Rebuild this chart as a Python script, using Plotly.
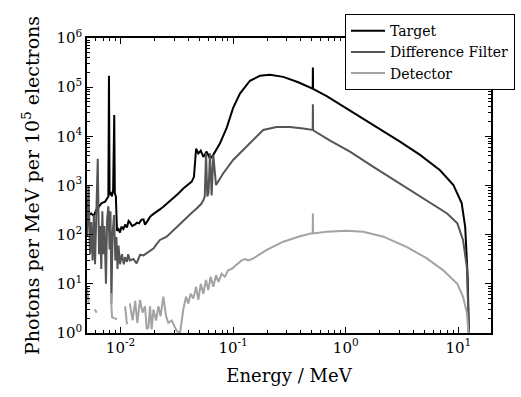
import plotly.graph_objects as go

# ---------------- data ----------------
target_e = [0.00504, 0.0052, 0.0055, 0.0058, 0.0061, 0.0065, 0.0068, 0.0073, 0.0077, 0.0078,
            0.0079, 0.0080, 0.0082, 0.0084, 0.0086, 0.0088, 0.0089, 0.0091, 0.0093, 0.0096,
            0.0099, 0.0102, 0.0106, 0.0110, 0.0114, 0.0118, 0.0121, 0.0127, 0.0134, 0.0140,
            0.0146, 0.0153, 0.0160, 0.0165, 0.0171, 0.0177, 0.0183, 0.0190, 0.0200, 0.0210,
            0.0225, 0.0240, 0.0265, 0.0295, 0.0325, 0.0361, 0.0395, 0.0429, 0.0449, 0.0462,
            0.0469, 0.0491, 0.0516, 0.0544, 0.0582, 0.0623, 0.0667, 0.0765, 0.0878, 0.100,
            0.115, 0.141, 0.173, 0.212, 0.279, 0.379, 0.500, 0.509, 0.511, 0.513,
            0.678, 1.02, 1.76, 3.03, 4.57, 6.88, 9.04, 10.7, 11.5, 12.1, 12.4]
target_v = [170, 250, 270, 240, 320, 380, 440, 470, 560, 600,
            1.7e5, 650, 690, 600, 810, 2.7e4, 700, 600, 120, 130,
            110, 145, 130, 160, 140, 190, 180, 150, 160, 175,
            170, 200, 205, 160, 180, 210, 230, 250, 270, 295,
            330, 370, 450, 550, 680, 870, 1050, 1200, 1500, 3500,
            5600, 4500, 5100, 3800, 4900, 3500, 4200, 7200, 1.5e4, 3.8e4,
            7.4e4, 1.35e5, 1.7e5, 1.78e5, 1.62e5, 1.26e5, 9.3e4, 9.3e4, 2.5e5, 9.2e4,
            6.6e4, 3.7e4, 1.7e4, 7800, 4200, 2040, 1020, 440, 145, 14, 1]

filter_e = [0.00504, 0.0052, 0.00536, 0.0055, 0.00565, 0.0058, 0.00594, 0.0061, 0.00628, 0.00645,
            0.0066, 0.00675, 0.0069, 0.00705, 0.0072, 0.00743, 0.0076, 0.0078, 0.0080, 0.00815,
            0.0083, 0.0085, 0.00876, 0.0090, 0.0092, 0.0094, 0.0096, 0.0099, 0.0103, 0.0107,
            0.0110, 0.0114, 0.0117, 0.0121, 0.0130, 0.0139, 0.0149, 0.0160, 0.0171, 0.0183,
            0.0196, 0.0210, 0.0224, 0.0257, 0.0285, 0.0316, 0.0350, 0.0387, 0.0430, 0.0474,
            0.0520, 0.0544, 0.0560, 0.0575, 0.0590, 0.0605, 0.0623, 0.0645, 0.0667, 0.0705,
            0.0818, 0.100, 0.123, 0.141, 0.185, 0.243, 0.320, 0.420, 0.500, 0.509,
            0.511, 0.513, 0.720, 1.09, 1.76, 3.03, 5.25, 7.95, 9.8, 11.0, 11.9, 12.4]
filter_v = [90, 1000, 40, 180, 30, 250, 25, 200, 3500, 40,
            150, 20, 300, 40, 150, 10, 200, 380, 50, 300,
            4, 100, 250, 30, 90, 20, 60, 25, 40, 25,
            35, 28, 40, 30, 32, 26, 39, 38, 42, 45,
            52, 65, 78, 91, 115, 145, 180, 230, 280, 340,
            420, 500, 600, 4500, 600, 700, 4500, 630, 4200, 1020,
            1780, 3300, 5250, 7000, 1.35e4, 1.55e4, 1.55e4, 1.45e4, 1.35e4, 1.35e4,
            4.5e4, 1.33e4, 8300, 4900, 2400, 1100, 500, 270, 170, 78, 22, 1]

detector_e = [0.00504, 0.00512, 0.0052, None, 0.0059, 0.00615, None, 0.0082, 0.0084, 0.0088,
              0.0093, None, 0.0110, 0.0114, None, 0.0121, 0.0128, 0.0135, 0.0141, 0.0149,
              0.0157, 0.0165, 0.0171, 0.0177, 0.0183, 0.0189, 0.0196, 0.0207, 0.0217, 0.0227,
              0.0240, 0.0254, 0.0266, 0.0285, 0.0305, 0.0316, 0.0338, 0.0361, 0.0382, 0.0400,
              0.0420, 0.0443, 0.0469, 0.0491, 0.0516, 0.0544, 0.0574, 0.0602, 0.0632, 0.0667,
              0.0705, 0.0740, 0.0791, 0.0845, 0.0905, 0.097, 0.104, 0.111, 0.119, 0.128,
              0.136, 0.151, 0.199, 0.279, 0.392, 0.500, 0.509, 0.511, 0.513, 0.678,
              1.02, 1.43, 2.16, 3.5, 5.25, 7.3, 9.8, 11.0, 11.9, 12.3]
detector_v = [9, 6, 4, None, 3, 2.6, None, 6.5, 2.1, 2.0,
              1.9, None, 3.5, 1.5, None, 4.0, 1.8, 4.5, 1.6, 4.7,
              2.6, 3.5, 1.2, 1.3, 3.5, 1.2, 3.0, 1.8, 3.5, 2.2,
              5.5, 2.2, 1.6, 1.8, 1.3, 1.1, 1.0, 3.0, 5.5, 4.0,
              6.3, 5.0, 8.7, 4.7, 10, 6.3, 12, 7.5, 14, 8.7,
              15, 11, 16, 14, 19, 20, 23, 26, 30, 32,
              30, 33, 49, 72, 93, 107, 107, 270, 106, 115,
              120, 115, 91, 56, 33, 19, 10, 5.5, 2.6, 1]

series_names = ["Target", "Difference Filter", "Detector"]
series_colors = ["#000000", "#555555", "#a3a3a3"]

x_tickvals = [0.01, 0.1, 1, 10]
x_ticktext = ["10<sup>-2</sup>", "10<sup>-1</sup>", "10<sup>0</sup>", "10<sup>1</sup>"]
y_tickvals = [1, 10, 100, 1000, 1e4, 1e5, 1e6]
y_ticktext = ["10<sup>0</sup>", "10<sup>1</sup>", "10<sup>2</sup>", "10<sup>3</sup>",
              "10<sup>4</sup>", "10<sup>5</sup>", "10<sup>6</sup>"]
x_minor = [m * 10.0 ** d for d in range(-3, 2) for m in range(2, 10)]
y_minor = [m * 10.0 ** d for d in range(0, 6) for m in range(2, 10)]

# ---------------- figure ----------------
FONT = "DejaVu Serif"
fig = go.Figure()
for xs, ys, name, col in [(target_e, target_v, series_names[0], series_colors[0]),
                          (filter_e, filter_v, series_names[1], series_colors[1]),
                          (detector_e, detector_v, series_names[2], series_colors[2])]:
    fig.add_trace(go.Scatter(x=xs, y=ys, mode="lines", name=name,
                             line=dict(color=col, width=2), connectgaps=False))

axis_common = dict(
    type="log", showgrid=False, zeroline=False,
    showline=True, linecolor="black", linewidth=1.5, mirror="allticks",
    ticks="inside", ticklen=6, tickwidth=1, tickcolor="black",
    tickmode="array",
    tickfont=dict(family=FONT, size=15, color="black"),
)

fig.update_layout(
    width=521, height=397,
    margin=dict(l=87, r=30, t=38, b=64, autoexpand=False),
    paper_bgcolor="white", plot_bgcolor="white",
    font=dict(family=FONT, color="black"),
    xaxis=dict(axis_common, range=[-2.2975, 1.29], tickvals=x_tickvals, ticktext=x_ticktext,
               minor=dict(tickmode="array", tickvals=x_minor, ticks="inside", ticklen=3,
                          tickwidth=1, tickcolor="black", showgrid=False),
               title=dict(text="Energy / MeV", font=dict(family=FONT, size=18), standoff=14)),
    yaxis=dict(axis_common, range=[0, 6], tickvals=y_tickvals, ticktext=y_ticktext,
               minor=dict(tickmode="array", tickvals=y_minor, ticks="inside", ticklen=3,
                          tickwidth=1, tickcolor="black", showgrid=False),
               title=dict(text="Photons per MeV per 10<sup>5</sup> electrons",
                          font=dict(family=FONT, size=19), standoff=12)),
    showlegend=True,
    legend=dict(x=0.6386, y=1.081, xanchor="left", yanchor="top",
                bgcolor="white", bordercolor="black", borderwidth=1,
                font=dict(family=FONT, size=14, color="black"),
                tracegroupgap=0, itemwidth=34),
)

fig.write_html("out.html")
